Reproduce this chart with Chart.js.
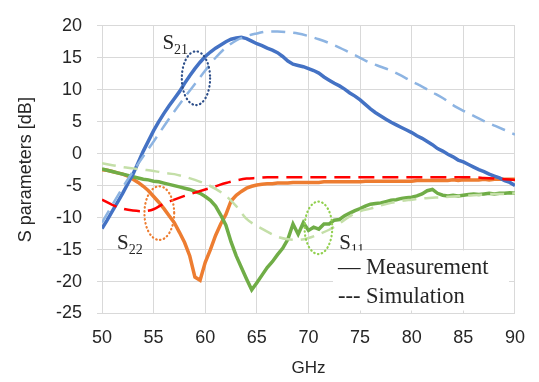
<!DOCTYPE html>
<html>
<head>
<meta charset="utf-8">
<script src="https://cdn.jsdelivr.net/npm/chart.js@4.4.1/dist/chart.umd.min.js"></script>
<style>
  html, body { margin: 0; padding: 0; background: #fff; }
  #wrap { width: 539px; height: 382px; }
</style>
</head>
<body>
<div id="wrap"><canvas id="sChart" width="539" height="382"></canvas></div>
<script>
// measured sweep, GHz
const freqMeas = [
  50, 50.5, 51, 51.5, 52, 52.5, 53, 53.5, 54, 54.5,
  55, 55.5, 56, 56.5, 57, 57.5, 58, 58.5, 59, 59.5,
  60, 60.5, 61, 61.5, 62, 62.5, 63, 63.5, 64, 64.5,
  65, 65.5, 66, 66.5, 67, 67.5, 68, 68.5, 69, 69.5,
  70, 70.5, 71, 71.5, 72, 72.5, 73, 73.5, 74, 74.5,
  75, 75.5, 76, 76.5, 77, 77.5, 78, 78.5, 79, 79.5,
  80, 80.5, 81, 81.5, 82, 82.5, 83, 83.5, 84, 84.5,
  85, 85.5, 86, 86.5, 87, 87.5, 88, 88.5, 89, 89.5,
  90
];
// simulation sweep, GHz
const freqSim = [
  50, 51, 52, 53, 54, 55, 56, 57, 58, 59,
  60, 61, 62, 63, 64, 65, 66, 67, 68, 69,
  70, 71, 72, 73, 74, 75, 76, 77, 78, 79,
  80, 81, 82, 83, 84, 85, 86, 87, 88, 89,
  90
];

const s21Meas = [
  -11.7, -10.4, -9.0, -7.6, -6.2, -4.7, -3.2, -1.4, 0.4, 2.0,
  3.6, 5.0, 6.3, 7.5, 8.6, 9.7, 11.0, 12.2, 13.3, 14.3,
  15.2, 15.9, 16.5, 17.0, 17.5, 17.9, 18.1, 18.2, 18.0, 17.6,
  17.2, 16.9, 16.5, 16.2, 15.8, 15.2, 14.5, 14.0, 13.8, 13.6,
  13.3, 13.0, 12.6, 12.0, 11.5, 11.0, 10.6, 10.1, 9.5, 9.0,
  8.4, 7.7, 7.0, 6.4, 5.9, 5.4, 4.9, 4.5, 4.1, 3.7,
  3.3, 2.8, 2.4, 1.9, 1.4, 0.8, 0.4, -0.1, -0.5, -1.0,
  -1.3, -1.7, -2.1, -2.5, -2.8, -3.2, -3.5, -3.8, -4.2, -4.5,
  -5.0
];
const s22Meas = [
  -2.5, -2.6, -2.8, -3.0, -3.2, -3.5, -4.0, -4.5, -5.1, -5.8,
  -6.7, -7.6, -8.6, -9.7, -10.8, -12.3, -13.9, -16.0, -19.3, -19.8,
  -17.0, -15.0, -12.8, -11.0, -9.5, -7.4, -6.5, -5.9, -5.4, -5.1,
  -4.9, -4.8, -4.7, -4.7, -4.6, -4.6, -4.6, -4.5, -4.5, -4.5,
  -4.5, -4.5, -4.5, -4.4, -4.4, -4.4, -4.4, -4.4, -4.4, -4.4,
  -4.4, -4.3, -4.3, -4.3, -4.3, -4.3, -4.3, -4.3, -4.3, -4.3,
  -4.3, -4.2, -4.2, -4.2, -4.2, -4.2, -4.2, -4.2, -4.1, -4.2,
  -4.1, -4.1, -4.1, -4.1, -4.0, -4.1, -4.0, -4.0, -4.0, -4.0,
  -4.0
];
const s11Meas = [
  -2.4, -2.6, -2.8, -3.0, -3.2, -3.4, -3.6, -3.8, -4.0, -4.1,
  -4.3, -4.4, -4.6, -4.8, -5.0, -5.2, -5.4, -5.6, -5.9, -6.2,
  -6.7, -7.3, -8.2, -9.6, -11.2, -13.8, -16.0, -17.8, -19.6, -21.3,
  -20.2, -19.0, -17.8, -16.9, -15.8, -14.8, -13.4, -11.0, -12.6, -10.8,
  -12.0, -11.5, -11.8, -11.0, -11.0, -10.4, -10.3, -9.7, -9.3, -8.9,
  -8.6, -8.2, -7.9, -7.8, -7.7, -7.5, -7.3, -7.2, -7.0, -6.9,
  -6.8, -6.6, -6.3, -5.8, -5.6, -6.2, -6.5, -6.6, -6.5, -6.6,
  -6.5, -6.4, -6.3, -6.4, -6.3, -6.2, -6.3, -6.2, -6.2, -6.1,
  -6.2
];

const s21Sim = [
  -10.8, -8.0, -5.3, -2.8, -0.4, 1.9, 4.3, 6.6, 8.8, 10.9,
  13.0, 15.0, 16.6, 17.7, 18.4, 18.8, 19.1, 19.1, 19.0, 18.8,
  18.4, 17.9, 17.3, 16.6, 15.8, 15.0, 14.2, 13.6, 13.0, 12.2,
  11.3, 10.5, 9.6, 8.7, 7.6, 6.7, 5.9, 5.1, 4.4, 3.7,
  3.0
];
const s22Sim = [
  -7.2, -8.0, -8.6, -8.9, -9.0, -8.7, -7.8, -7.2, -6.6, -6.1,
  -5.6, -5.1, -4.6, -4.2, -3.9, -3.8, -3.7, -3.7, -3.7, -3.7,
  -3.7, -3.7, -3.7, -3.7, -3.7, -3.7, -3.7, -3.7, -3.7, -3.7,
  -3.7, -3.7, -3.7, -3.7, -3.7, -3.7, -3.7, -3.8, -3.9, -4.0,
  -4.1
];
const s11Sim = [
  -1.5, -1.8, -2.1, -2.3, -2.5, -2.7, -3.0, -3.2, -3.6, -4.1,
  -4.7, -5.5, -6.6, -8.2, -10.2, -11.3, -12.2, -13.0, -13.4, -13.5,
  -13.2, -12.6, -11.9, -10.9, -9.8, -9.0, -8.6, -8.1, -7.7, -7.4,
  -7.2, -7.0, -6.9, -6.8, -6.7, -6.6, -6.5, -6.4, -6.3, -6.3,
  -6.2
];

// dotted ellipses + S-labels, in data units
const marks = [
  { sub: '21', color: '#2e4f8a', cx: 59.1, cy: 11.8, rx: 1.37, ry: 4.2, lx: 55.85, ly: 16.4 },
  { sub: '22', color: '#ed7d31', cx: 55.55, cy: -9.3, rx: 1.44, ry: 4.2, lx: 51.45, ly: -14.9 },
  { sub: '11', color: '#92d050', cx: 70.96, cy: -11.6, rx: 1.34, ry: 4.1, lx: 72.97, ly: -14.9 }
];

const toXY = (xs, ys) => xs.map((x, i) => ({ x: x, y: ys[i] }));

function measSet(label, ys, color) {
  return {
    label: label, data: toXY(freqMeas, ys),
    borderColor: color, borderWidth: 3.5, pointRadius: 0,
    tension: 0, fill: false, order: 2
  };
}
function simSet(label, ys, color, dash) {
  return {
    label: label, data: toXY(freqSim, ys),
    borderColor: color, borderWidth: 2.5, borderDash: dash, pointRadius: 0,
    cubicInterpolationMode: 'monotone', fill: false, order: 1
  };
}

const overlay = {
  id: 'overlay',
  afterDatasetsDraw(chart) {
    const { ctx, chartArea: a } = chart;
    const xs = chart.scales.x, ys = chart.scales.y;
    ctx.save();
    marks.forEach(m => {
      const px = xs.getPixelForValue(m.cx), py = ys.getPixelForValue(m.cy);
      const rx = Math.abs(xs.getPixelForValue(m.cx + m.rx) - px);
      const ry = Math.abs(ys.getPixelForValue(m.cy + m.ry) - py);
      ctx.beginPath();
      ctx.ellipse(px, py, rx, ry, 0, 0, Math.PI * 2);
      ctx.strokeStyle = m.color;
      ctx.lineWidth = 2.2;
      ctx.lineCap = 'round';
      ctx.setLineDash([0.5, 3.5]);
      ctx.stroke();

      const lx = xs.getPixelForValue(m.lx), ly = ys.getPixelForValue(m.ly);
      ctx.setLineDash([]);
      ctx.fillStyle = '#262626';
      ctx.textBaseline = 'alphabetic';
      ctx.textAlign = 'left';
      ctx.font = '21px "Liberation Serif", serif';
      ctx.fillText('S', lx, ly);
      const w = ctx.measureText('S').width;
      ctx.font = '14px "Liberation Serif", serif';
      ctx.fillText(m.sub, lx + w, ly + 5);
    });

    // legend box, bottom right of the plot
    const bx = a.right - 182, by = a.bottom - 63;
    ctx.fillStyle = '#fff';
    ctx.fillRect(bx, by, 176, 60);
    ctx.fillStyle = '#262626';
    ctx.font = '22.5px "Liberation Serif", serif';
    ctx.textAlign = 'left';
    ctx.fillText('\u2014 Measurement', bx + 5, by + 23);
    ctx.fillText('--- Simulation', bx + 5, by + 52);
    ctx.restore();
  }
};

const gridColor = '#d9d9d9';
const tickFont = { family: '"Liberation Sans", Arial, sans-serif', size: 18 };

new Chart(document.getElementById('sChart').getContext('2d'), {
  type: 'line',
  data: {
    datasets: [
      simSet('S21 sim', s21Sim, '#8db4e2', [14, 8]),
      simSet('S22 sim', s22Sim, '#ff0000', [16, 8]),
      simSet('S11 sim', s11Sim, '#c4dfa8', [14, 8]),
      measSet('S21', s21Meas, '#4472c4'),
      measSet('S11', s11Meas, '#70ad47'),
      measSet('S22', s22Meas, '#ed7d31')
    ]
  },
  options: {
    responsive: false,
    animation: false,
    layout: { padding: { top: 16.5, right: 19, left: 0, bottom: 0 } },
    plugins: { legend: { display: false }, tooltip: { enabled: false } },
    scales: {
      x: {
        type: 'linear', min: 50, max: 90,
        afterFit: s => { s.height = 68.5; },
        ticks: { stepSize: 5, color: '#262626', font: tickFont, padding: 14, maxRotation: 0 },
        grid: { color: gridColor, drawTicks: false },
        border: { color: gridColor },
        title: { display: true, text: 'GHz', color: '#262626',
                 font: { family: '"Liberation Sans", Arial, sans-serif', size: 17 },
                 padding: { top: 0, bottom: 3 } }
      },
      y: {
        min: -25, max: 20,
        afterFit: s => { s.width = 102; },
        ticks: { stepSize: 5, color: '#262626', font: tickFont, padding: 15 },
        grid: { color: gridColor, tickLength: 5 },
        border: { color: gridColor },
        title: { display: true, text: 'S parameters [dB]', color: '#262626',
                 font: { family: '"Liberation Sans", Arial, sans-serif', size: 18 },
                 padding: { top: 15, bottom: 0 } }
      }
    }
  },
  plugins: [overlay]
});
</script>
</body>
</html>
